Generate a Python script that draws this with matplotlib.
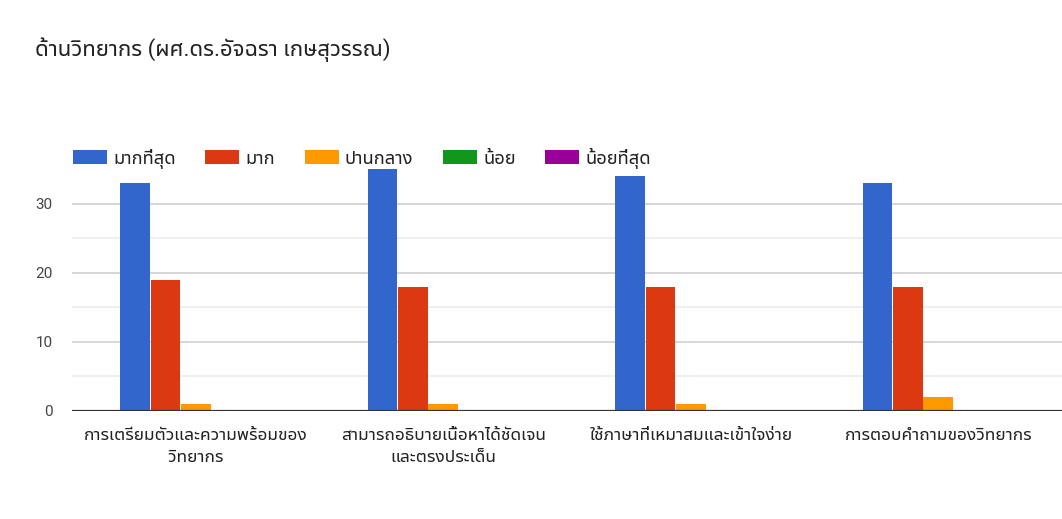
import matplotlib
matplotlib.use('Agg')
import matplotlib.pyplot as plt
import numpy as np

plt.rcParams['font.family'] = ['Roboto', 'Noto Sans Thai UI', 'DejaVu Sans']

# ข้อมูล
categories = ['การเตรียมตัวและความพร้อมของ\nวิทยากร',
              'สามารถอธิบายเนื้อหาได้ชัดเจน\nและตรงประเด็น',
              'ใช้ภาษาที่เหมาสมและเข้าใจง่าย',
              'การตอบคำถามของวิทยากร']
series_names = ['มากที่สุด', 'มาก', 'ปานกลาง', 'น้อย', 'น้อยที่สุด']
most = [33, 35, 34, 33]
much = [19, 18, 18, 18]
medium = [1, 1, 1, 2]
little = [0, 0, 0, 0]
least = [0, 0, 0, 0]
title = 'ด้านวิทยากร (ผศ.ดร.อัจฉรา เกษสุวรรณ)'

colors = ['#3366cc', '#dc3912', '#ff9900', '#109618', '#990099']
series = [most, much, medium, little, least]

fig = plt.figure(figsize=(10.62, 5.19), dpi=100)
ax = fig.add_axes([72 / 1062, 1 - 411 / 519, 990 / 1062, 243 / 519])

x = np.arange(len(categories))
w = 0.123
for i, (vals, name, c) in enumerate(zip(series, series_names, colors)):
    ax.bar(x + (i - 2) * w, vals, w * 0.97, color=c, label=name, zorder=3)

ax.set_xlim(-0.5, len(categories) - 0.5)
ax.set_ylim(0, 35.2)
ax.set_yticks([0, 10, 20, 30])
ax.set_yticks([5, 15, 25], minor=True)
ax.grid(axis='y', which='major', color='#cccccc', lw=1.1, zorder=0)
ax.grid(axis='y', which='minor', color='#ebebeb', lw=1.1, zorder=0)
ax.axhline(0, color='#333333', lw=1.6, zorder=4)
for s in ax.spines.values():
    s.set_visible(False)
ax.tick_params(axis='y', which='both', length=0, pad=14, labelsize=11, labelcolor='#444444')
ax.tick_params(axis='x', length=0, pad=12)
ax.set_xticks(x)
ax.set_xticklabels(categories, fontsize=12.5, color='#222222', linespacing=1.65)

fig.text(35 / 1062, 1 - 50 / 519, title, fontsize=16, color='#222222', va='center', ha='left')

h, l = ax.get_legend_handles_labels()
fig.legend(h, l, loc='center left', bbox_to_anchor=(73 / 1062, 1 - 158 / 519), ncol=5,
           frameon=False, fontsize=13.2, handlelength=1.85, handleheight=0.75,
           handletextpad=0.35, columnspacing=1.6, borderpad=0, borderaxespad=0,
           labelcolor='#222222')

fig.savefig('out.png', dpi=100)
